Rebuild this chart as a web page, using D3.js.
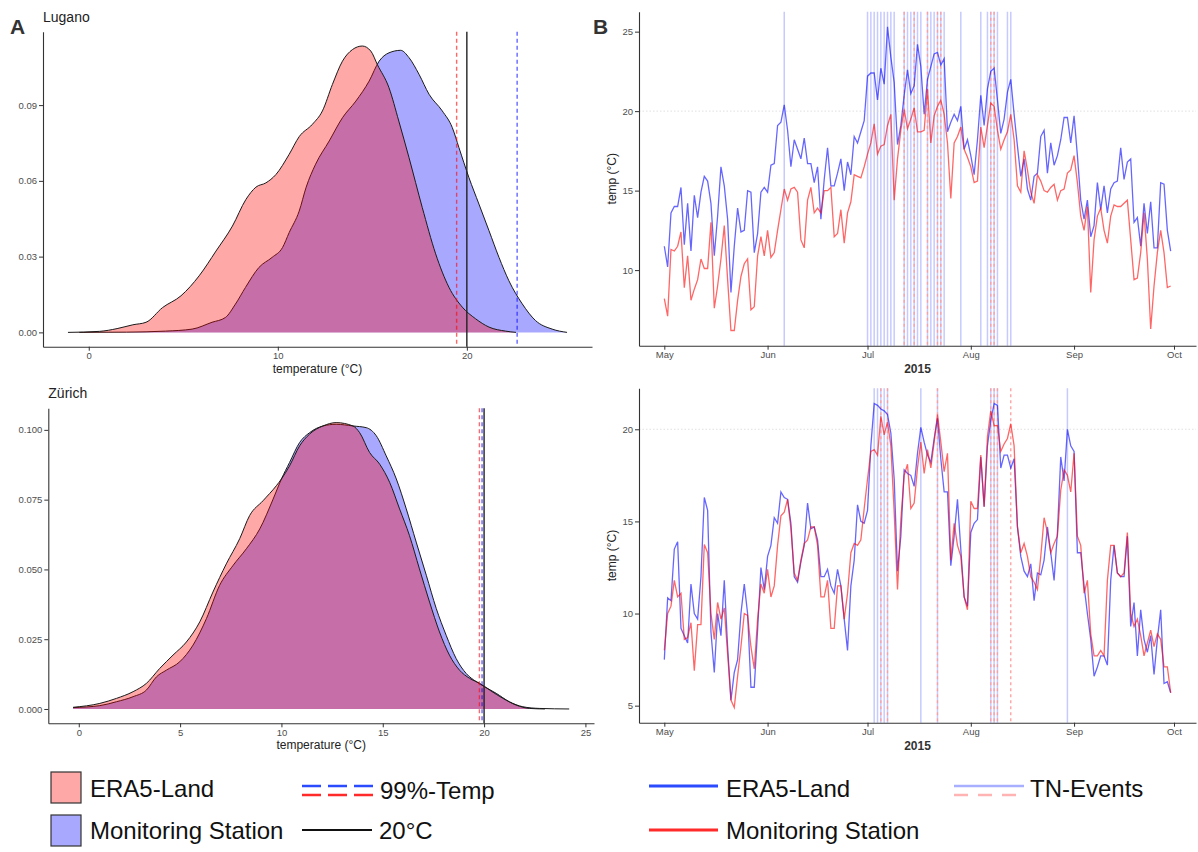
<!DOCTYPE html>
<html>
<head>
<meta charset="utf-8">
<script src="https://cdn.jsdelivr.net/npm/d3@7"></script>
<style>
  body { margin: 0; background: #fff; }
  svg { display: block; font-family: "Liberation Sans", Arial, Helvetica, sans-serif; }
</style>
</head>
<body>
<svg id="chart" width="1198" height="852"></svg>
<script>
// ---- panel A: kernel densities, [temperature, density]
var luganoEra = [[-1.1,0],[0.57,0.0004],[1.5,0.0015],[2.33,0.003],[3.03,0.004],[3.9,0.0098],[4.88,0.0145],
  [5.84,0.0224],[6.73,0.0322],[7.6,0.0421],[8.31,0.0526],[8.84,0.0575],[9.37,0.0592],[9.9,0.0625],[10.6,0.0705],
  [11.13,0.0775],[11.83,0.0824],[12.36,0.0877],[12.89,0.0982],[13.42,0.1074],[13.95,0.112],[14.47,0.1134],
  [14.92,0.1114],[15.27,0.106],[15.88,0.0969],[16.4,0.0837],[16.94,0.0692],[17.64,0.0495],[18.35,0.0311],
  [19.05,0.0179],[19.76,0.01],[20.46,0.0054],[21.17,0.0021],[22.05,0.0005],[22.6,0]];
var luganoStation = [[-0.5,0],[2,0.0001],[4.06,0.0005],[5.47,0.0013],[6.52,0.004],[7.23,0.0059],[7.76,0.0112],
  [8.29,0.0178],[9.0,0.0257],[9.7,0.0297],[10.25,0.0336],[10.6,0.0395],[11.13,0.048],[11.5,0.0575],[12.0,0.0666],
  [12.72,0.0758],[13.42,0.085],[14.13,0.0916],[14.83,0.0995],[15.36,0.1074],[15.88,0.1107],[16.5,0.1117],
  [16.94,0.1088],[17.47,0.1022],[18.0,0.0943],[18.7,0.0877],[19.23,0.0811],[19.58,0.0732],[20.11,0.0613],
  [20.64,0.0508],[21.17,0.0403],[21.7,0.0297],[22.22,0.0205],[22.93,0.0113],[23.63,0.0047],[24.51,0.0013],[25.3,0]];
var zurichEra = [[-0.28,0.0006],[1.04,0.002],[1.86,0.0038],[2.68,0.0062],[3.34,0.0092],[3.99,0.0145],[4.65,0.0193],
  [5.31,0.024],[5.97,0.0312],[6.62,0.0419],[7.28,0.052],[7.94,0.061],[8.43,0.0693],[9.09,0.0746],[9.75,0.08],
  [10.0,0.0824],[10.4,0.0871],[10.9,0.0943],[11.39,0.0985],[12.05,0.1014],[12.7,0.1026],[13.53,0.1014],
  [13.86,0.099],[14.35,0.0919],[14.85,0.0877],[15.34,0.0812],[15.83,0.0717],[16.32,0.0621],[16.81,0.0502],
  [17.31,0.0383],[17.8,0.0276],[18.29,0.0193],[18.79,0.0139],[19.28,0.011],[19.78,0.0092],[20.27,0.0068],
  [20.93,0.0038],[21.58,0.0014],[22.24,0.0002],[23,0]];
var zurichStation = [[-0.28,0.0005],[1.04,0.0012],[1.86,0.0026],[2.68,0.0044],[3.34,0.0068],[3.83,0.0115],
  [4.32,0.0139],[4.98,0.0169],[5.64,0.0229],[6.3,0.0324],[6.95,0.0443],[7.61,0.0514],[8.27,0.0574],[8.93,0.0645],
  [9.59,0.0752],[10.0,0.0824],[10.4,0.0883],[10.9,0.0955],[11.39,0.099],[12.05,0.1014],[12.7,0.102],[13.53,0.1014],
  [14.18,0.1008],[14.68,0.0979],[15.17,0.0907],[15.67,0.0824],[16.16,0.0717],[16.65,0.0598],[17.15,0.0479],
  [17.64,0.036],[18.13,0.0264],[18.62,0.0181],[19.12,0.0127],[19.61,0.0098],[20.02,0.008],[20.6,0.0056],
  [21.25,0.0026],[21.91,0.0008],[22.73,0.0002],[24.2,0]];

// 99% quantiles and the 20 degC threshold
var luganoQ99 = [19.46, 22.66];   // [ERA5-Land, station]
var zurichQ99 = [19.77, 19.9];
var threshold = 20;

var luganoDensTicks = [0, 10, 20];
var luganoDensYTicks = [0, 0.03, 0.06, 0.09];
var zurichDensTicks = [0, 5, 10, 15, 20, 25];
var zurichDensYTicks = [0, 0.025, 0.05, 0.075, 0.1];

// ---- panel B: daily minimum temperature, 1 May - 30 Sep 2015
var luganoEraTemp = [11.5,10.2,13.6,14.0,14.0,15.2,11.6,14.2,11.2,14.7,
  13.3,14.9,15.9,15.6,14.2,10.9,13.4,16.5,15.3,13.2,
  8.6,11.5,13.9,12.4,12.5,15.0,14.9,11.1,12.3,14.9,
  15.2,14.9,16.6,16.7,19.1,19.3,20.4,18.8,16.5,18.2,
  17.6,17.0,18.3,16.7,16.7,15.5,16.5,13.2,15.7,17.7,
  15.3,15.3,16.1,17.0,15.0,16.8,16.0,18.4,18.0,18.7,
  19.4,22.2,22.4,22.4,20.7,22.7,21.7,25.3,23.4,21.8,
  17.9,19.1,21.0,22.6,21.1,21.6,24.2,22.8,19.8,22.0,
  22.8,23.6,23.7,22.9,23.3,18.7,19.3,19.8,19.4,20.3,
  17.6,18.2,17.2,16.0,18.2,21.0,19.1,21.4,22.5,22.7,
  20.7,18.6,19.5,21.2,22.0,19.8,17.8,15.9,17.0,15.1,
  14.4,15.9,16.1,18.4,18.8,16.1,18.0,16.6,17.2,18.2,
  19.6,19.6,18.0,19.7,17.2,14.4,13.2,14.4,12.1,12.8,
  15.5,13.8,15.3,13.6,15.1,15.5,15.6,17.7,15.7,16.8,
  17.0,13.0,13.3,11.5,14.2,12.3,14.3,11.4,11.4,15.5,
  15.4,12.5,11.2];
var luganoStationTemp = [8.2,7.1,11.3,11.2,11.5,12.4,8.9,10.9,8.1,8.8,
  9.4,10.7,10.1,10.1,13.0,7.6,9.0,10.7,12.8,9.4,
  6.2,6.2,8.1,9.6,10.4,10.7,7.5,7.7,10.9,12.1,
  10.9,12.5,10.8,11.1,12.5,13.8,15.1,14.4,15.1,15.2,
  14.9,11.9,11.4,14.4,15.2,13.6,13.9,13.6,15.0,15.0,
  15.2,12.1,12.3,13.8,11.7,13.6,14.3,16.0,15.9,15.8,
  16.5,17.3,18.0,19.2,17.3,17.8,17.9,19.1,19.8,14.4,
  17.0,18.8,20.1,18.9,19.5,20.2,18.7,18.7,18.8,21.4,
  18.0,19.7,20.3,20.7,19.8,18.0,14.5,18.0,18.4,19.0,
  17.6,17.1,16.5,15.5,15.6,19.0,17.7,19.1,20.5,20.3,
  18.8,17.6,18.2,18.7,19.8,18.2,15.3,14.9,17.5,16.3,
  14.9,14.2,16.0,15.6,15.0,14.9,15.2,15.4,14.4,15.0,
  15.1,16.1,16.3,17.2,15.5,13.4,12.5,14.0,8.6,11.9,
  13.4,13.9,12.5,11.7,13.4,14.1,14.0,14.0,14.2,14.4,
  11.9,9.4,9.5,11.1,13.6,10.7,6.3,9.0,11.1,12.5,
  11.1,8.9,9.0];
var zurichEraTemp = [7.5,10.85,10.7,13.5,13.9,9.2,8.8,8.4,11.6,10.0,
  9.7,12.0,16.3,15.6,9.0,6.8,10.0,8.8,11.8,8.2,
  5.3,6.8,7.5,10.0,11.6,10.0,6.0,6.0,9.1,12.5,
  11.3,13.1,13.7,15.2,14.9,16.6,16.3,16.2,14.9,12.0,
  11.7,12.8,13.7,16.0,14.6,14.7,14.0,12.0,12.0,12.4,
  11.5,11.1,12.4,11.5,9.7,8.0,11.5,12.9,15.9,15.0,
  14.9,15.6,19.1,21.4,21.3,21.1,21.0,20.8,19.8,17.3,
  12.3,14.2,17.8,17.6,17.5,16.9,18.7,20.1,19.3,18.6,
  18.2,19.5,20.6,18.4,16.6,16.6,12.6,14.2,16.2,13.5,
  10.9,10.4,14.4,14.9,15.1,18.5,15.8,19.1,20.5,21.4,
  21.3,17.9,18.6,18.6,17.9,18.4,14.7,13.1,12.3,12.0,
  12.7,10.7,12.2,12.1,12.9,14.7,13.3,11.8,14.4,18.5,
  17.2,20.0,19.1,18.8,13.3,13.3,11.5,10.0,8.6,6.6,
  7.1,7.7,7.7,7.2,11.8,13.7,12.2,12.0,12.0,14.2,
  9.3,10.6,7.7,10.2,8.6,7.9,8.8,6.7,8.6,10.2,
  6.2,6.3,5.7];
var zurichStationTemp = [8.0,10.0,10.4,11.8,10.9,11.1,8.6,8.7,9.5,6.9,
  9.4,9.4,13.75,13.3,10.0,8.6,10.6,9.7,10.3,7.8,
  5.3,4.9,6.6,8.2,10.0,9.9,8.2,7.0,9.7,11.6,
  11.1,12.4,10.9,11.5,13.7,15.3,15.5,16.2,14.6,12.2,
  11.8,12.9,13.8,14.0,14.7,14.7,13.7,10.9,10.9,11.8,
  9.2,9.2,11.5,11.5,9.7,11.1,13.3,13.8,13.7,14.0,
  15.7,17.3,18.8,18.9,18.6,20.7,19.7,20.4,19.1,15.5,
  11.3,15.1,17.5,18.1,15.7,16.0,17.9,19.3,17.6,18.9,
  17.9,19.3,20.8,19.3,17.7,18.7,12.9,14.9,13.7,13.1,
  10.9,10.2,16.1,15.7,15.7,18.6,15.8,19.6,21.0,20.2,
  20.2,18.8,19.2,19.5,20.3,19.1,14.7,13.3,13.8,13.1,
  12.0,11.7,11.3,13.1,15.2,14.4,13.3,13.8,14.2,16.7,
  17.8,17.5,16.6,18.7,14.2,13.7,11.1,11.8,8.9,7.7,
  7.7,8.0,7.7,11.8,13.7,13.7,12.2,12.0,12.2,14.4,
  10.0,9.3,9.7,8.8,7.7,8.4,9.1,8.2,8.9,8.6,
  7.1,7.1,5.7];

// tropical-night events (TN) per source
var luganoEraEvents = ["2015-06-06","2015-07-01","2015-07-02","2015-07-03","2015-07-04","2015-07-05","2015-07-06",
  "2015-07-07","2015-07-08","2015-07-09","2015-07-12","2015-07-13","2015-07-14","2015-07-15","2015-07-16",
  "2015-07-17","2015-07-19","2015-07-20","2015-07-21","2015-07-22","2015-07-23","2015-07-24","2015-07-29",
  "2015-08-04","2015-08-06","2015-08-07","2015-08-08","2015-08-09","2015-08-12","2015-08-13"];
var luganoStationEvents = ["2015-07-12","2015-07-15","2015-07-19","2015-07-22","2015-07-23","2015-08-07","2015-08-08"];
var zurichEraEvents = ["2015-07-03","2015-07-04","2015-07-05","2015-07-06","2015-07-07","2015-07-17","2015-07-22",
  "2015-08-07","2015-08-08","2015-08-09","2015-08-30"];
var zurichStationEvents = ["2015-07-05","2015-07-07","2015-07-22","2015-08-07","2015-08-08","2015-08-09","2015-08-13"];

var luganoTempTicks = [10, 15, 20, 25];
var zurichTempTicks = [5, 10, 15, 20];

var RED = "#ff0000", BLUE = "#0000ff";
var svg = d3.select("#chart");
var parseDay = d3.utcParse("%Y-%m-%d");
var days = d3.utcDay.range(new Date(Date.UTC(2015, 4, 1)), new Date(Date.UTC(2015, 9, 1)));

// ggplot-like 5% expansion
function expand(ext) {
  var pad = (ext[1] - ext[0]) * 0.05;
  return [ext[0] - pad, ext[1] + pad];
}

function styleAxis(g) {
  g.select(".domain").attr("stroke", "#333").attr("stroke-width", 1.1);
  g.selectAll(".tick line").attr("stroke", "#333");
  g.selectAll(".tick text").attr("fill", "#4d4d4d").attr("font-size", 9.5);
}

function densityPanel(o) {
  var all = o.era.concat(o.station);
  var x = d3.scaleLinear().domain(expand(d3.extent(all, function(d) { return d[0]; }))).range([o.left, o.right]);
  var y = d3.scaleLinear().domain(expand([0, d3.max(all, function(d) { return d[1]; })])).range([o.bottom, o.top]);
  var g = svg.append("g");

  var area = d3.area().curve(d3.curveMonotoneX)
    .x(function(d) { return x(d[0]); }).y0(y(0)).y1(function(d) { return y(d[1]); });
  var line = d3.line().curve(d3.curveMonotoneX)
    .x(function(d) { return x(d[0]); }).y(function(d) { return y(d[1]); });

  // station first, ERA5-Land drawn over it
  [[o.station, BLUE], [o.era, RED]].forEach(function(c) {
    g.append("path").attr("d", area(c[0])).attr("fill", c[1]).attr("fill-opacity", 0.34);
    g.append("path").attr("d", line(c[0])).attr("fill", "none").attr("stroke", "#1a1a1a").attr("stroke-width", 1);
  });

  g.append("line").attr("x1", x(o.q99[0])).attr("x2", x(o.q99[0])).attr("y1", o.top).attr("y2", o.bottom)
    .attr("stroke", RED).attr("stroke-opacity", 0.6).attr("stroke-width", 1.4).attr("stroke-dasharray", "4,3");
  g.append("line").attr("x1", x(o.q99[1])).attr("x2", x(o.q99[1])).attr("y1", o.top).attr("y2", o.bottom)
    .attr("stroke", BLUE).attr("stroke-opacity", 0.6).attr("stroke-width", 1.4).attr("stroke-dasharray", "4,3");
  g.append("line").attr("x1", x(threshold)).attr("x2", x(threshold)).attr("y1", o.top).attr("y2", o.bottom)
    .attr("stroke", "#222").attr("stroke-width", 1.4);

  g.append("g").attr("transform", "translate(0," + o.bottom + ")")
    .call(d3.axisBottom(x).tickValues(o.xTicks).tickSize(4).tickSizeOuter(0).tickPadding(2))
    .call(styleAxis);
  g.append("g").attr("transform", "translate(" + o.left + ",0)")
    .call(d3.axisLeft(y).tickValues(o.yTicks).tickFormat(d3.format(o.yFormat)).tickSize(4).tickSizeOuter(0).tickPadding(2))
    .call(styleAxis);

  g.append("text").attr("x", (o.left + o.right) / 2).attr("y", o.bottom + 26).attr("text-anchor", "middle")
    .attr("font-size", 12).attr("fill", "#222").text("temperature (°C)");
  g.append("text").attr("x", o.left).attr("y", o.top - 10).attr("font-size", 14).attr("fill", "#222").text(o.title);
}

function seriesPanel(o) {
  var all = o.era.concat(o.station);
  var span = expand([days[0].getTime(), days[days.length - 1].getTime()]);
  var x = d3.scaleUtc().domain([new Date(span[0]), new Date(span[1])]).range([o.left, o.right]);
  var y = d3.scaleLinear().domain(expand(d3.extent(all))).range([o.bottom, o.top]);
  var g = svg.append("g");

  g.append("g").selectAll("line").data(o.eraEvents.map(parseDay)).join("line")
    .attr("x1", function(d) { return x(d); }).attr("x2", function(d) { return x(d); })
    .attr("y1", o.top).attr("y2", o.bottom)
    .attr("stroke", "#c6caff").attr("stroke-width", 1.5);
  g.append("g").selectAll("line").data(o.stationEvents.map(parseDay)).join("line")
    .attr("x1", function(d) { return x(d); }).attr("x2", function(d) { return x(d); })
    .attr("y1", o.top).attr("y2", o.bottom)
    .attr("stroke", "#ff9c9c").attr("stroke-width", 1.3).attr("stroke-dasharray", "3,3");

  g.append("line").attr("x1", o.left).attr("x2", o.right).attr("y1", y(threshold)).attr("y2", y(threshold))
    .attr("stroke", "#d9d9d9").attr("stroke-width", 0.8).attr("stroke-dasharray", "1.5,2");

  var line = d3.line().x(function(d, i) { return x(days[i]); }).y(function(d) { return y(d); });
  g.append("path").attr("d", line(o.era)).attr("fill", "none")
    .attr("stroke", BLUE).attr("stroke-opacity", 0.6).attr("stroke-width", 1.3);
  g.append("path").attr("d", line(o.station)).attr("fill", "none")
    .attr("stroke", RED).attr("stroke-opacity", 0.6).attr("stroke-width", 1.3);

  g.append("g").attr("transform", "translate(0," + o.bottom + ")")
    .call(d3.axisBottom(x).ticks(d3.utcMonth.every(1)).tickFormat(d3.utcFormat("%b"))
      .tickSize(4).tickSizeOuter(0).tickPadding(2))
    .call(styleAxis);
  g.append("g").attr("transform", "translate(" + o.left + ",0)")
    .call(d3.axisLeft(y).tickValues(o.yTicks).tickSize(4).tickSizeOuter(0).tickPadding(2))
    .call(styleAxis);

  g.append("text").attr("x", (o.left + o.right) / 2).attr("y", o.bottom + 27).attr("text-anchor", "middle")
    .attr("font-size", 12).attr("font-weight", "bold").attr("fill", "#333").text("2015");
  g.append("text").attr("transform", "translate(" + (o.left - 23) + "," + ((o.top + o.bottom) / 2) + ") rotate(-90)")
    .attr("text-anchor", "middle").attr("font-size", 12).attr("fill", "#222").text("temp (°C)");
}

densityPanel({ era: luganoEra, station: luganoStation, q99: luganoQ99, title: "Lugano",
  left: 43, right: 592, top: 31.7, bottom: 346.7, xTicks: luganoDensTicks, yTicks: luganoDensYTicks, yFormat: ".2f" });
densityPanel({ era: zurichEra, station: zurichStation, q99: zurichQ99, title: "Zürich",
  left: 48.3, right: 594, top: 408.3, bottom: 723.3, xTicks: zurichDensTicks, yTicks: zurichDensYTicks, yFormat: ".3f" });

seriesPanel({ era: luganoEraTemp, station: luganoStationTemp, eraEvents: luganoEraEvents, stationEvents: luganoStationEvents,
  left: 639, right: 1196, top: 11.7, bottom: 345.7, yTicks: luganoTempTicks });
seriesPanel({ era: zurichEraTemp, station: zurichStationTemp, eraEvents: zurichEraEvents, stationEvents: zurichStationEvents,
  left: 639, right: 1196, top: 388.3, bottom: 722.7, yTicks: zurichTempTicks });

// panel letters
svg.append("text").attr("x", 10).attr("y", 34).attr("font-size", 21).attr("font-weight", "bold").attr("fill", "#333").text("A");
svg.append("text").attr("x", 593).attr("y", 34).attr("font-size", 21).attr("font-weight", "bold").attr("fill", "#333").text("B");

// ---- legends
var leg = svg.append("g").attr("font-size", 24).attr("fill", "#111");
leg.append("rect").attr("x", 51).attr("y", 772).attr("width", 30).attr("height", 31)
  .attr("fill", RED).attr("fill-opacity", 0.34).attr("stroke", "#333").attr("stroke-width", 1.2);
leg.append("rect").attr("x", 51).attr("y", 815).attr("width", 30).attr("height", 31)
  .attr("fill", BLUE).attr("fill-opacity", 0.34).attr("stroke", "#333").attr("stroke-width", 1.2);
leg.append("text").attr("x", 90).attr("y", 796.5).text("ERA5-Land");
leg.append("text").attr("x", 90).attr("y", 838.5).text("Monitoring Station");

leg.append("line").attr("x1", 302).attr("x2", 374).attr("y1", 786).attr("y2", 786)
  .attr("stroke", "#2b4bff").attr("stroke-width", 2.6).attr("stroke-dasharray", "19,7");
leg.append("line").attr("x1", 302).attr("x2", 374).attr("y1", 795).attr("y2", 795)
  .attr("stroke", "#ff2a2a").attr("stroke-width", 2.6).attr("stroke-dasharray", "19,7");
leg.append("text").attr("x", 380).attr("y", 798.5).text("99%-Temp");
leg.append("line").attr("x1", 302).attr("x2", 372).attr("y1", 830).attr("y2", 830)
  .attr("stroke", "#111").attr("stroke-width", 2);
leg.append("text").attr("x", 379).attr("y", 838.5).text("20°C");

leg.append("line").attr("x1", 649).attr("x2", 718).attr("y1", 786).attr("y2", 786)
  .attr("stroke", "#2b4bff").attr("stroke-width", 3);
leg.append("text").attr("x", 726).attr("y", 796.5).text("ERA5-Land");
leg.append("line").attr("x1", 649).attr("x2", 718).attr("y1", 830).attr("y2", 830)
  .attr("stroke", "#ff2a2a").attr("stroke-width", 3);
leg.append("text").attr("x", 726).attr("y", 838.5).text("Monitoring Station");

leg.append("line").attr("x1", 954).attr("x2", 1024).attr("y1", 786).attr("y2", 786)
  .attr("stroke", "#a9afff").attr("stroke-width", 2.6);
leg.append("line").attr("x1", 954).attr("x2", 1024).attr("y1", 795).attr("y2", 795)
  .attr("stroke", "#ffb3b3").attr("stroke-width", 2.6).attr("stroke-dasharray", "14,10");
leg.append("text").attr("x", 1030).attr("y", 796.5).text("TN-Events");
</script>
</body>
</html>
